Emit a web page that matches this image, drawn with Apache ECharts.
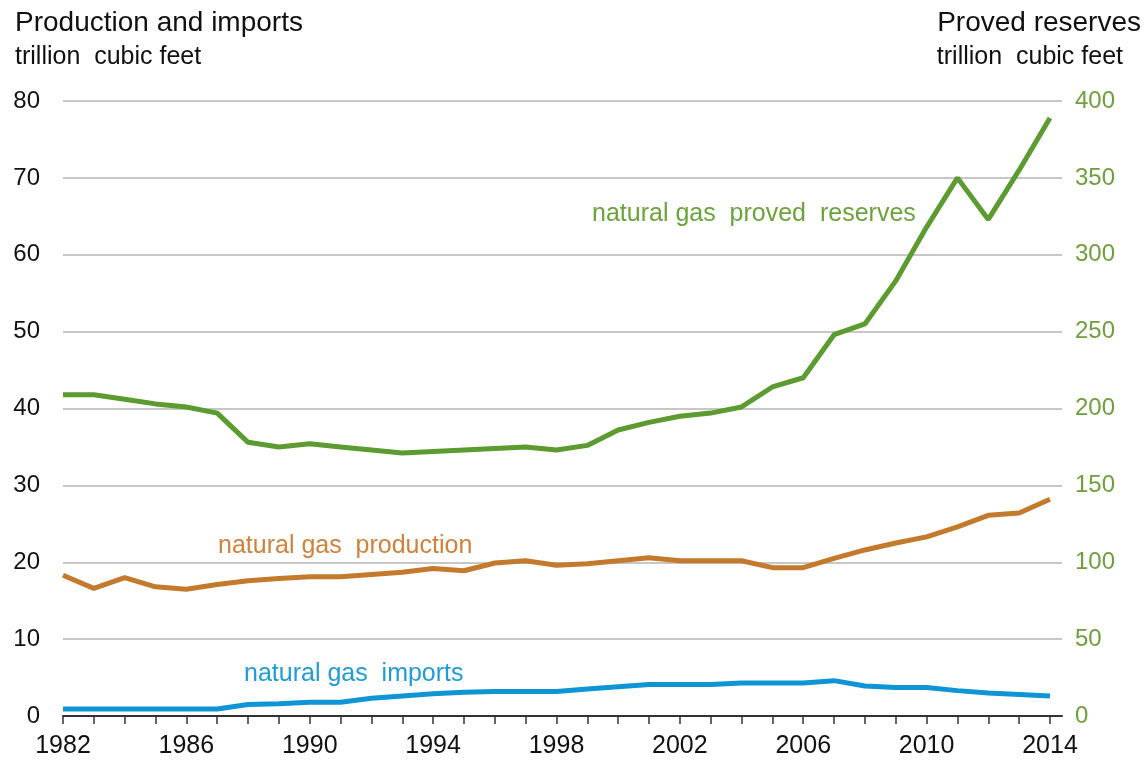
<!DOCTYPE html>
<html>
<head>
<meta charset="utf-8">
<script src="https://cdn.jsdelivr.net/npm/echarts@6/dist/echarts.min.js"></script>
<style>
html,body{margin:0;padding:0;background:#fff;}
#chart{width:1144px;height:761px;}
</style>
</head>
<body>
<div id="chart"></div>
<script>
const years = [1982,1983,1984,1985,1986,1987,1988,1989,1990,1991,1992,1993,1994,1995,1996,1997,1998,1999,2000,2001,2002,2003,2004,2005,2006,2007,2008,2009,2010,2011,2012,2013,2014];
const production = [18.3,16.6,18.0,16.8,16.5,17.1,17.6,17.9,18.1,18.1,18.4,18.7,19.2,18.9,19.9,20.2,19.6,19.8,20.2,20.6,20.2,20.2,20.2,19.3,19.3,20.5,21.6,22.5,23.3,24.6,26.1,26.4,28.2];
const imports = [0.9,0.9,0.9,0.9,0.9,0.9,1.5,1.6,1.8,1.8,2.3,2.6,2.9,3.1,3.2,3.2,3.2,3.5,3.8,4.1,4.1,4.1,4.3,4.3,4.3,4.6,3.9,3.7,3.7,3.3,3.0,2.8,2.6];
const reserves = [209,209,206,203,201,197,178,175,177,175,173,171,172,173,174,175,173,176,186,191,195,197,201,214,220,248,255,283,318,350,323,355,389];
const yearLabels = [1982,1986,1990,1994,1998,2002,2006,2010,2014];
const leftTicks = [0,80,10];
const rightTicks = [0,400,50];

const pairs = arr => years.map((y,i)=>[y,arr[i]]);
const FONT = '"Liberation Sans", Arial, sans-serif';
const chart = echarts.init(document.getElementById('chart'), null, {renderer:'canvas'});
chart.setOption({
  animation:false,
  backgroundColor:'#ffffff',
  grid:{left:63,right:82,top:101,bottom:45,containLabel:false},
  xAxis:{
    type:'value',min:1982,max:2014.39,
    axisLine:{lineStyle:{color:'#333',width:2}},
    axisTick:{show:true,customValues:years,length:8,lineStyle:{color:'#333',width:1.5}},
    axisLabel:{customValues:yearLabels,color:'#111',fontSize:25,fontFamily:FONT,margin:18,
               formatter:v=>String(Math.round(v))},
    splitLine:{show:false}
  },
  yAxis:[
    {type:'value',min:leftTicks[0],max:leftTicks[1],interval:leftTicks[2],position:'left',
     axisLine:{show:false},axisTick:{show:false},
     axisLabel:{color:'#111',fontSize:24,fontFamily:FONT,margin:23},
     splitLine:{lineStyle:{color:'#b4b4b4',width:1.5}}},
    {type:'value',min:rightTicks[0],max:rightTicks[1],interval:rightTicks[2],position:'right',
     axisLine:{show:false},axisTick:{show:false},
     axisLabel:{color:'#6f9f3c',fontSize:24,fontFamily:FONT,margin:13},
     splitLine:{show:false}}
  ],
  series:[
    {name:'natural gas proved reserves',type:'line',yAxisIndex:1,data:pairs(reserves),symbol:'none',
     lineStyle:{color:'#5b9b2f',width:5},z:3},
    {name:'natural gas production',type:'line',yAxisIndex:0,data:pairs(production),symbol:'none',
     lineStyle:{color:'#c47a2d',width:5},z:3},
    {name:'natural gas imports',type:'line',yAxisIndex:0,data:pairs(imports),symbol:'none',
     lineStyle:{color:'#0f95d6',width:5},z:3}
  ],
  graphic:[
    {type:'text',x:15,y:23,style:{text:'Production and imports',font:'28px '+FONT,fill:'#111',textVerticalAlign:'middle'}},
    {type:'text',x:15,y:57,style:{text:'trillion  cubic feet',font:'25px '+FONT,fill:'#111',textVerticalAlign:'middle'}},
    {type:'text',x:1141,y:23,style:{text:'Proved reserves',font:'28px '+FONT,fill:'#111',textAlign:'right',textVerticalAlign:'middle'}},
    {type:'text',x:1123,y:57,style:{text:'trillion  cubic feet',font:'25px '+FONT,fill:'#111',textAlign:'right',textVerticalAlign:'middle'}},
    {type:'text',x:592,y:214,style:{text:'natural gas  proved  reserves',font:'25px '+FONT,fill:'#6aa33a',textVerticalAlign:'middle'}},
    {type:'text',x:218,y:546,style:{text:'natural gas  production',font:'25px '+FONT,fill:'#d0813c',textVerticalAlign:'middle'}},
    {type:'text',x:244,y:674,style:{text:'natural gas  imports',font:'25px '+FONT,fill:'#1e9bd8',textVerticalAlign:'middle'}}
  ]
});
</script>
</body>
</html>
